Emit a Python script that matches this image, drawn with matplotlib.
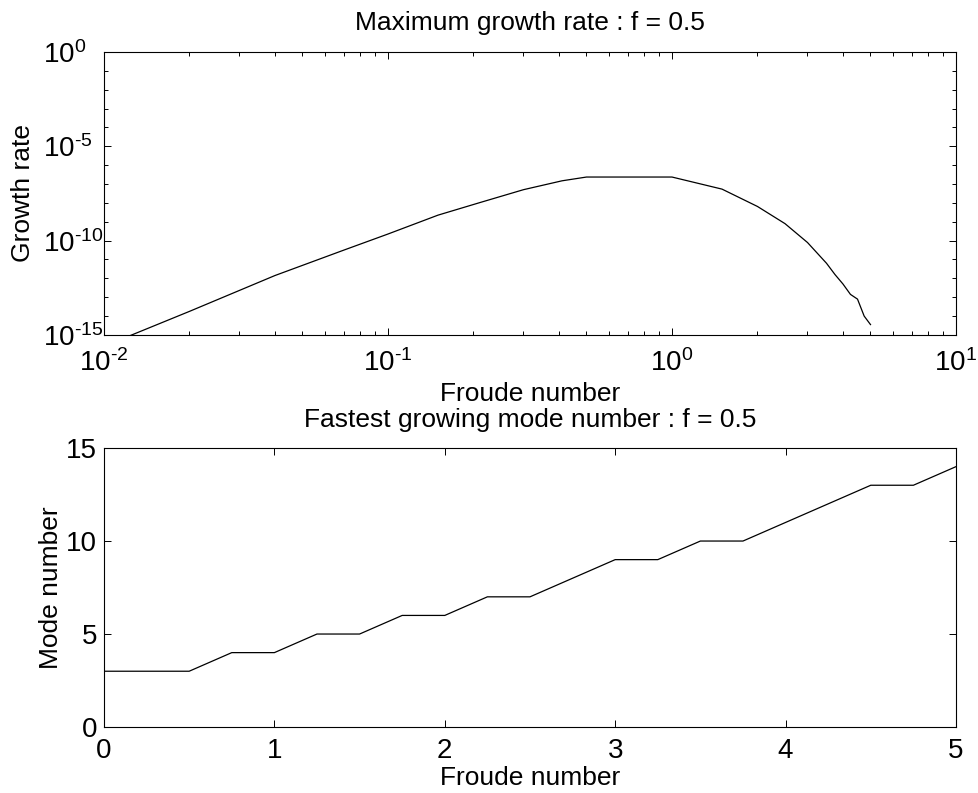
import matplotlib
matplotlib.use("Agg")
import matplotlib.pyplot as plt
import numpy as np
from matplotlib.ticker import FixedLocator, FuncFormatter, NullFormatter

plt.rcParams["font.family"] = ["Liberation Sans", "DejaVu Sans"]
plt.rcParams["mathtext.fontset"] = "custom"
plt.rcParams["mathtext.rm"] = "Liberation Sans"
plt.rcParams["mathtext.it"] = "Liberation Sans"
plt.rcParams["axes.unicode_minus"] = False

# maximum growth rate against Froude number (log10 of the rate)
froude_growth = [0.01, 0.02, 0.04, 0.07, 0.1, 0.15, 0.21, 0.3, 0.41, 0.5, 0.75, 1.0,
                 1.5, 2.0, 2.5, 3.0, 3.5, 3.75, 4.0, 4.25, 4.5, 4.75, 5.0]
log_growth = [-15.6, -13.75, -11.85, -10.5, -9.65, -8.65, -7.99, -7.3, -6.83, -6.63, -6.63, -6.63,
              -7.27, -8.19, -9.1, -10.1, -11.2, -11.8, -12.3, -12.85, -13.1, -14.0, -14.45]

# fastest growing mode number
froude_mode = [0.0, 0.25, 0.5, 0.75, 1.0, 1.25, 1.5, 1.75, 2.0, 2.25, 2.5, 2.75, 3.0,
               3.25, 3.5, 3.75, 4.0, 4.25, 4.5, 4.75, 5.0]
mode_number = [3, 3, 3, 4, 4, 5, 5, 6, 6, 7, 7, 8, 9, 9, 10, 10, 11, 12, 13, 13, 14]

growth_yticks = [1e-15, 1e-10, 1e-5, 1e0]
growth_xticks = [1e-2, 1e-1, 1e0, 1e1]

LABEL_SIZE = 19
TICK_SIZE = 20


def power_label(value, pos):
    exponent = int(round(np.log10(value)))
    # short hyphen for the sign, like the old plotting package used
    text = "\u2010%d" % -exponent if exponent < 0 else "%d" % exponent
    return r"$\mathregular{10^{%s}}$" % text


def style_axes(ax):
    ax.tick_params(which="both", direction="in", top=True, right=True,
                   labelsize=TICK_SIZE, width=0.7)
    ax.tick_params(which="major", length=5)
    ax.tick_params(which="minor", length=3)
    for spine in ax.spines.values():
        spine.set_linewidth(0.8)


fig = plt.figure(figsize=(9.79, 7.93), dpi=100)

ax1 = fig.add_axes([0.1062, 0.5776, 0.8703, 0.3569])
ax1.plot(froude_growth, np.power(10.0, log_growth), color="black", linewidth=0.9)
ax1.set_xscale("log")
ax1.set_yscale("log")
ax1.set_xlim(1e-2, 1e1)
ax1.set_ylim(1e-15, 1e0)
ax1.yaxis.set_major_locator(FixedLocator(growth_yticks))
ax1.yaxis.set_minor_locator(FixedLocator(10.0 ** np.arange(-15, 1)))
ax1.xaxis.set_major_locator(FixedLocator(growth_xticks))
ax1.xaxis.set_minor_locator(FixedLocator(
    [m * 10.0 ** e for e in (-2, -1, 0) for m in range(2, 10)]))
ax1.xaxis.set_major_formatter(FuncFormatter(power_label))
ax1.yaxis.set_major_formatter(FuncFormatter(power_label))
ax1.xaxis.set_minor_formatter(NullFormatter())
ax1.yaxis.set_minor_formatter(NullFormatter())
style_axes(ax1)
ax1.tick_params(axis="x", pad=10)
# y labels start at a common left edge, so the "10" bases line up
ax1.tick_params(axis="y", pad=44)
for label in ax1.get_yticklabels():
    label.set_horizontalalignment("left")
ax1.set_title("Maximum growth rate : f = 0.5", fontsize=LABEL_SIZE, pad=16)
ax1.set_xlabel("Froude number", fontsize=LABEL_SIZE, labelpad=4)
ax1.set_ylabel("Growth rate", fontsize=LABEL_SIZE)
ax1.yaxis.set_label_coords(-0.081, 0.5)

ax2 = fig.add_axes([0.1062, 0.0832, 0.8703, 0.3518])
ax2.plot(froude_mode, mode_number, color="black", linewidth=0.9)
ax2.set_xlim(0, 5)
ax2.set_ylim(0, 15)
ax2.set_xticks([0, 1, 2, 3, 4, 5])
ax2.set_yticks([0, 5, 10, 15])
style_axes(ax2)
ax2.tick_params(axis="x", pad=8)
ax2.tick_params(axis="y", pad=5)
ax2.set_title("Fastest growing mode number : f = 0.5", fontsize=LABEL_SIZE, pad=15)
ax2.set_xlabel("Froude number", fontsize=LABEL_SIZE, labelpad=1)
ax2.set_ylabel("Mode number", fontsize=LABEL_SIZE)
ax2.yaxis.set_label_coords(-0.048, 0.5)

fig.savefig("out.png", dpi=100)
